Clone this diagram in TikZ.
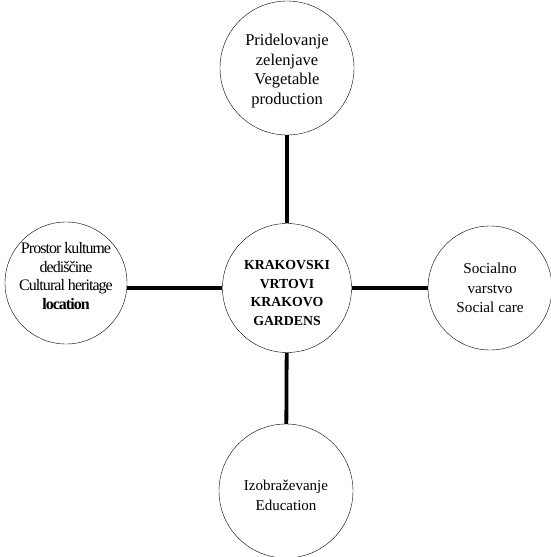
\documentclass[tikz,border=0pt]{standalone}
\usepackage{fontspec}
\setmainfont{Liberation Serif}
\begin{document}
\begin{tikzpicture}[x=1pt,y=-1pt,
  bubble/.style={draw,thin,circle,inner sep=0pt},
  caption/.style={align=center,inner sep=0pt},
  link/.style={line width=3.8pt}]
\useasboundingbox (0,0) rectangle (551,557);
% circles
\node[bubble,minimum size=129pt] (core) at (287,288) {};
\node[bubble,minimum size=134pt] (veg) at (287,68) {};
\node[bubble,minimum size=122pt] (herit) at (66,283) {};
\node[bubble,minimum size=124pt] (care) at (490,288) {};
\node[bubble,minimum size=134pt] (edu) at (286,491) {};

% texts
\node[caption,font=\bfseries\fontsize{13.8}{18.5}\selectfont] (coretext) at ([yshift=-5pt]core.center) {KRAKOVSKI\\VRTOVI\\KRAKOVO\\GARDENS};
\node[caption,font=\fontsize{16.5}{19.5}\selectfont] (vegtext) at ([yshift=-3pt]veg.center) {Pridelovanje\\zelenjave\\Vegetable\\production};
\node[caption,font=\fontsize{16}{18.8}\selectfont] (herittext) at ([yshift=7pt]herit.center) {\addfontfeature{LetterSpace=-6}Prostor kulturne\\\addfontfeature{LetterSpace=-6}dediščine\\\addfontfeature{LetterSpace=-6}Cultural heritage\\\bfseries\addfontfeature{LetterSpace=-6}location};
\node[caption,font=\fontsize{15.2}{19.5}\selectfont] (caretext) at (care.center) {Socialno\\varstvo\\Social care};
\node[caption,font=\fontsize{15}{20}\selectfont] (edutext) at ([yshift=-4pt]edu.center) {Izobraževanje\\Education};

% connectors
\draw[link] (veg) -- (core);
\draw[link] (herit.east |- core) -- (core);
\draw[link] (core) -- (care.west |- core);
\draw[link] (core) -- (edu);
\end{tikzpicture}
\end{document}
